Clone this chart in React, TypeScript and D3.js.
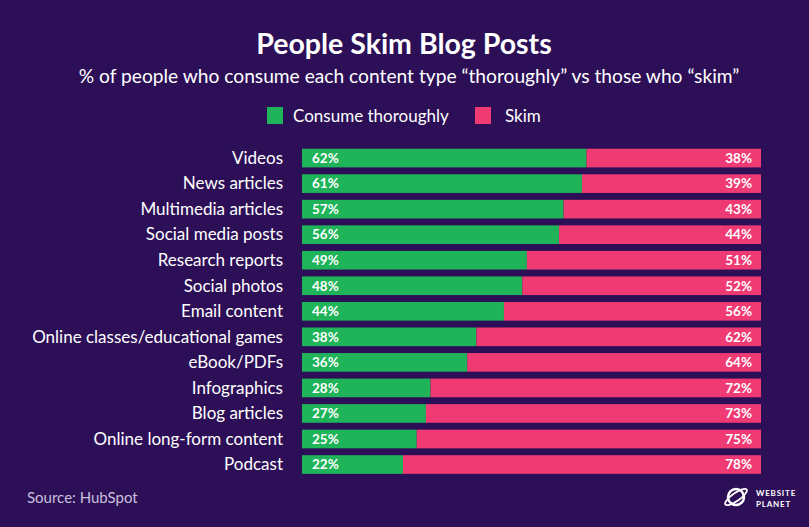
import React from "react";
import * as d3 from "d3";

const categories = [
  "Videos", "News articles", "Multimedia articles", "Social media posts", "Research reports",
  "Social photos", "Email content", "Online classes/educational games", "eBook/PDFs",
  "Infographics", "Blog articles", "Online long-form content", "Podcast",
];
const thorough = [62, 61, 57, 56, 49, 48, 44, 38, 36, 28, 27, 25, 22];
const skim = [38, 39, 43, 44, 51, 52, 56, 62, 64, 72, 73, 75, 78];
const seriesNames = ["Consume thoroughly", "Skim"];

const W = 809, H = 527;
const BG = "#2d0f57";
const GREEN = "#1fb35a";
const PINK = "#ef3a74";
const FONT = "Lato, 'Open Sans', sans-serif";

export default function App() {
  const x = d3.scaleLinear().domain([0, 100]).range([302, 761]);
  const y = d3.scaleBand().domain(categories).range([145.3, 477.3]).paddingInner(0.27).paddingOuter(0.135);
  const bh = y.bandwidth();
  return (
    <svg width={W} height={H} style={{ position: "absolute", left: 0, top: 0, display: "block" }}>
      <rect width={W} height={H} fill={BG} />
      <text x={404} y={54} textAnchor="middle" fill="#fff" fontFamily={FONT} fontWeight={700} fontSize={28.5}>People Skim Blog Posts</text>
      <text x={409} y={83} textAnchor="middle" fill="#fff" fontFamily={FONT} fontSize={19.2}>% of people who consume each content type “thoroughly” vs those who “skim”</text>
      <rect x={267} y={107} width={16} height={17} fill={GREEN} />
      <text x={293} y={121.5} fill="#fff" fontFamily={FONT} fontSize={17}>{seriesNames[0]}</text>
      <rect x={475} y={107} width={16} height={17} fill={PINK} />
      <text x={505} y={121.5} fill="#fff" fontFamily={FONT} fontSize={17}>{seriesNames[1]}</text>
      {categories.map((c, i) => {
        const yy = y(c)!;
        return (
          <g key={c}>
            <text x={283} y={yy + bh / 2 + 5.8} textAnchor="end" fill="#fff" fontFamily={FONT} fontSize={17}>{c}</text>
            <rect x={x(0)} y={yy} width={x(thorough[i]) - x(0)} height={bh} fill={GREEN} />
            <rect x={x(thorough[i])} y={yy} width={x(100) - x(thorough[i])} height={bh} fill={PINK} />
            <text x={312} y={yy + bh / 2 + 4.8} fill="#fff" fontFamily={FONT} fontWeight={700} fontSize={13.5}>{thorough[i]}%</text>
            <text x={752} y={yy + bh / 2 + 4.8} textAnchor="end" fill="#fff" fontFamily={FONT} fontWeight={700} fontSize={13.5}>{skim[i]}%</text>
          </g>
        );
      })}
      <text x={27} y={503} fill="#c9c0dc" fontFamily={FONT} fontSize={15}>Source: HubSpot</text>
      <g transform="translate(736,497)">
        <circle r={8} fill="none" stroke="#fff" strokeWidth={2.5} />
        <ellipse rx={13} ry={4} fill="none" stroke="#fff" strokeWidth={1.8} transform="rotate(-35)" />
      </g>
      <text x={756} y={496} fill="#fff" fontFamily={FONT} fontWeight={700} fontSize={8} letterSpacing={0.8}>WEBSITE</text>
      <text x={756} y={507} fill="#fff" fontFamily={FONT} fontWeight={700} fontSize={8} letterSpacing={0.8}>PLANET</text>
    </svg>
  );
}
